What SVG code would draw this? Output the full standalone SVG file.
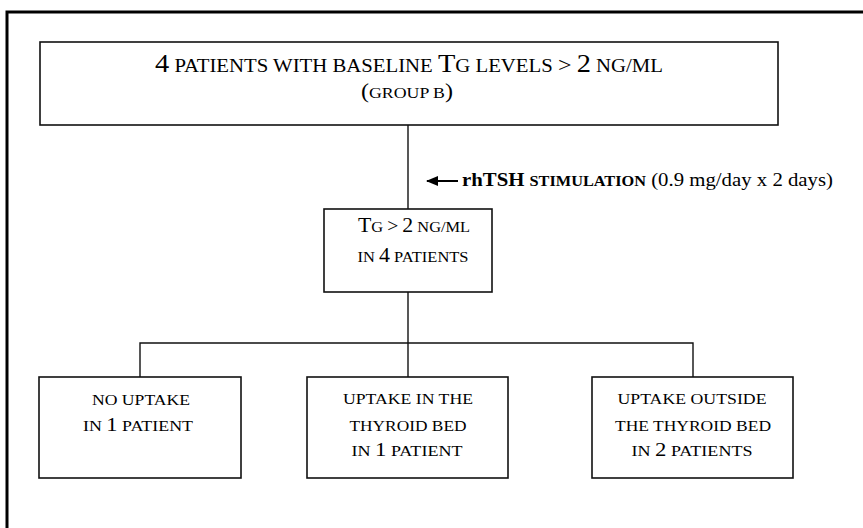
<svg xmlns="http://www.w3.org/2000/svg" width="863" height="528" viewBox="0 0 863 528">
<defs>
<style>
.frame{fill:none;stroke:#000;stroke-width:3}
.box{fill:#fff;stroke:#111;stroke-width:1.6}
.conn{fill:none;stroke:#111;stroke-width:1.4}
text{font-family:"Liberation Serif","Times New Roman",serif;fill:#000;text-anchor:middle}
.b{font-weight:bold}
</style>
<marker id="ah" viewBox="0 0 12 10" refX="11" refY="5" markerWidth="12" markerHeight="10" markerUnits="userSpaceOnUse" orient="auto">
<path d="M0,0 L12,5 L0,10 Z" fill="#000"/>
</marker>
</defs>
<rect width="863" height="528" fill="#fff"/>
<path class="frame" d="M7,530 L7,12 L865,12"/>

<g id="connectors">
<line class="conn" x1="408" y1="125" x2="408" y2="209"/>
<line class="conn" x1="408" y1="292" x2="408" y2="377"/>
<polyline class="conn" points="140,377 140,343 693,343 693,377"/>
<line x1="458" y1="181" x2="427" y2="181" stroke="#000" stroke-width="2" marker-end="url(#ah)"/>
<text x="647.5" y="186" font-size="18.5" textLength="371" lengthAdjust="spacingAndGlyphs"><tspan class="b">rhTSH </tspan><tspan class="b" font-size="14.5">STIMULATION</tspan> (0.9 mg/day x 2 days)</text>
</g>

<g id="top">
<rect class="box" x="40" y="42" width="738" height="83"/>
<text x="409" y="72" font-size="19" textLength="508" lengthAdjust="spacingAndGlyphs"><tspan font-size="26">4</tspan> PATIENTS WITH BASELINE <tspan font-size="26">T</tspan>G LEVELS <tspan font-size="22">&gt;</tspan> <tspan font-size="26">2</tspan> NG/ML</text>
<text x="407" y="98" font-size="15.5" textLength="92" lengthAdjust="spacingAndGlyphs"><tspan font-size="21">(</tspan>GROUP B<tspan font-size="21">)</tspan></text>
</g>

<g id="middle">
<rect class="box" x="324" y="209" width="168" height="83"/>
<text x="414" y="232" font-size="15" textLength="112" lengthAdjust="spacingAndGlyphs"><tspan font-size="20">T</tspan>G <tspan font-size="18">&gt;</tspan> <tspan font-size="20">2</tspan> NG/ML</text>
<text x="413" y="262" font-size="15" textLength="111" lengthAdjust="spacingAndGlyphs">IN <tspan font-size="20">4</tspan> PATIENTS</text>
</g>

<g id="no-uptake">
<rect class="box" x="39" y="377" width="202" height="101"/>
<text x="141" y="405" font-size="15.5" textLength="98" lengthAdjust="spacingAndGlyphs">NO UPTAKE</text>
<text x="138" y="431" font-size="15.5" textLength="110" lengthAdjust="spacingAndGlyphs">IN <tspan font-size="19.5">1</tspan> PATIENT</text>
</g>

<g id="uptake-bed">
<rect class="box" x="307" y="377" width="201" height="101"/>
<text x="408" y="404" font-size="15.5" textLength="130" lengthAdjust="spacingAndGlyphs">UPTAKE IN THE</text>
<text x="408" y="431" font-size="15.5" textLength="117" lengthAdjust="spacingAndGlyphs">THYROID BED</text>
<text x="407" y="456" font-size="15.5" textLength="111" lengthAdjust="spacingAndGlyphs">IN <tspan font-size="19.5">1</tspan> PATIENT</text>
</g>

<g id="uptake-outside">
<rect class="box" x="592" y="377" width="201" height="101"/>
<text x="692" y="404" font-size="15.5" textLength="149" lengthAdjust="spacingAndGlyphs">UPTAKE OUTSIDE</text>
<text x="693" y="431" font-size="15.5" textLength="156" lengthAdjust="spacingAndGlyphs">THE THYROID BED</text>
<text x="692" y="456" font-size="15.5" textLength="121" lengthAdjust="spacingAndGlyphs">IN <tspan font-size="19.5">2</tspan> PATIENTS</text>
</g>
</svg>
